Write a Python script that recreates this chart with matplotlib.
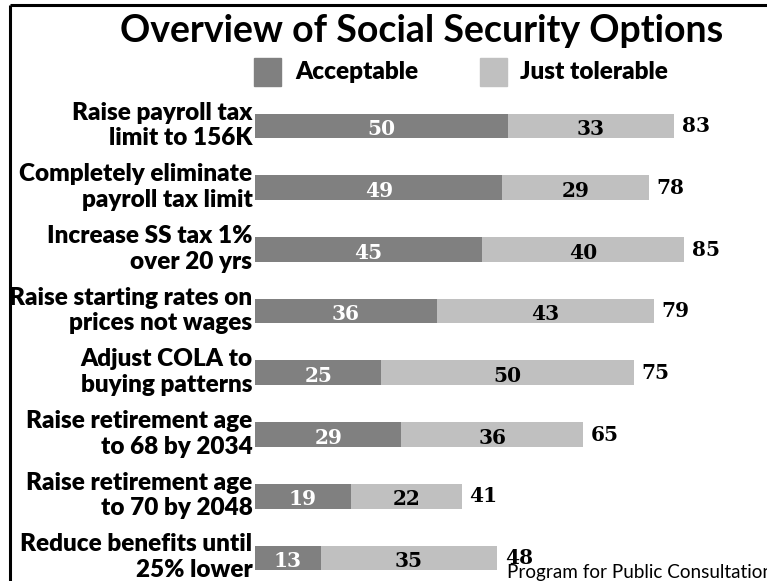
import matplotlib
matplotlib.use("Agg")
import matplotlib.pyplot as plt
from matplotlib.patches import Rectangle
from matplotlib.lines import Line2D

# Survey results (percent of respondents)
options = [
    "Raise payroll tax\nlimit to 156K",
    "Completely eliminate\npayroll tax limit",
    "Increase SS tax 1%\nover 20 yrs",
    "Raise starting rates on\nprices not wages",
    "Adjust COLA to\nbuying patterns",
    "Raise retirement age\nto 68 by 2034",
    "Raise retirement age\nto 70 by 2048",
    "Reduce benefits until\n25% lower",
]
acceptable = [50, 49, 45, 36, 25, 29, 19, 13]
tolerable = [33, 29, 40, 43, 50, 36, 22, 35]
totals = [83, 78, 85, 79, 75, 65, 41, 48]
series_names = ["Acceptable", "Just tolerable"]

DARK = "#808080"
LIGHT = "#c0c0c0"
SANS = ["Lato", "DejaVu Sans"]
SERIF = ["DejaVu Serif", "Liberation Serif"]

W, H = 767, 581
fig = plt.figure(figsize=(W / 100, H / 100), dpi=100)
fig.patch.set_facecolor("white")

# frame lines along the top and left edges
fig.add_artist(Line2D([9.5 / W, 1], [1 - 5 / H, 1 - 5 / H], color="black", lw=2.2,
                      transform=fig.transFigure, solid_capstyle="butt"))
fig.add_artist(Line2D([9.5 / W, 9.5 / W], [0, 1 - 5 / H], color="black", lw=2.2,
                      transform=fig.transFigure, solid_capstyle="butt"))

# plotting area: x = 0 at pixel 255, 5.05 px per percent
x0 = 255
ppu = 5.05
ax = fig.add_axes([x0 / W, 0, 1 - x0 / W, 1])
ax.set_xlim(0, (W - x0) / ppu)
first_c, step = 126, 61.7
ax.set_ylim((H - first_c) / step, -first_c / step)
ax.axis("off")

ypos = list(range(len(options)))
bh = 0.40
ax.barh(ypos, acceptable, height=bh, color=DARK, edgecolor="none")
ax.barh(ypos, tolerable, left=acceptable, height=bh, color=LIGHT, edgecolor="none")

num_style = dict(fontsize=14.5, fontweight="bold", family=SERIF, va="center_baseline")
for i, (a, t, tot, lab) in enumerate(zip(acceptable, tolerable, totals, options)):
    ax.text(a / 2, i + 0.02, str(a), ha="center", color="white", **num_style)
    ax.text(a + t / 2, i + 0.02, str(t), ha="center", color="black", **num_style)
    ax.text(a + t + 1.5, i - 0.03, str(tot), ha="left", color="black", **num_style)
    ax.text(-0.5, i - 0.01, lab, ha="right", va="center", color="black",
            fontsize=17.5, fontweight="heavy", family=SANS, linespacing=1.2,
            clip_on=False)

# title
fig.text(422 / W, 1 - 31 / H, "Overview of Social Security Options", ha="center",
         va="center", fontsize=27, fontweight="bold", family=SANS)

# legend
for sx, tx, col, name in [(254, 295, DARK, series_names[0]),
                          (480, 520, LIGHT, series_names[1])]:
    fig.add_artist(Rectangle((sx / W, 1 - 86 / H), 27 / W, 28 / H, color=col,
                             transform=fig.transFigure))
    fig.text(tx / W, 1 - 72 / H, name, ha="left", va="center", fontsize=17.5,
             fontweight="heavy", family=SANS)

# source note, running off the right edge
fig.text(507 / W, 1 - 578 / H, "Program for Public Consultation", ha="left",
         va="baseline", fontsize=13.6, family=SANS)

fig.savefig("out.png", dpi=100)
